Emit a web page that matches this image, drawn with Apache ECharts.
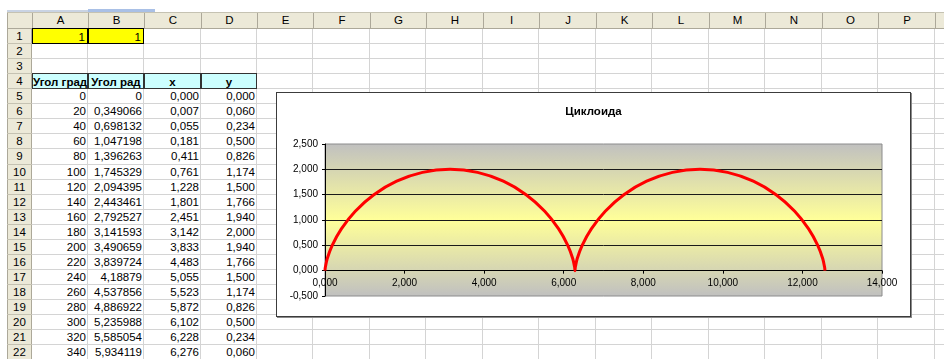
<!DOCTYPE html>
<html>
<head>
<meta charset="utf-8">
<script src="https://cdn.jsdelivr.net/npm/echarts@6/dist/echarts.min.js"></script>
<style>
  html, body { margin: 0; padding: 0; background: #fff; overflow: hidden; }
  body { width: 944px; height: 359px; position: relative; font-family: "Liberation Sans", Arial, sans-serif; }
  .abs { position: absolute; box-sizing: border-box; }
  .cell { position: absolute; box-sizing: border-box; font-size: 11.5px; line-height: 15px; white-space: nowrap; color: #000; overflow: visible; }
  .hdr { position: absolute; box-sizing: border-box; font-size: 11.5px; text-align: center; color: #000; }
  #chartBox { position: absolute; left: 276px; top: 92px; width: 635px; height: 225px; background: #fff;
              border: 1px solid #3c3c3c; box-shadow: 1px 1px 0 #8a8a8a; box-sizing: border-box; z-index: 10; }
  #chart { width: 633px; height: 223px; }
</style>
</head>
<body>
<div id="sheet"></div>
<div id="chartBox"><div id="chart"></div></div>
<script>
// ---- Sheet layout: column letters and cell contents ----
const columnLetters = ['A','B','C','D','E','F','G','H','I','J','K','L','M','N','O','P','Q'];
const inputA1 = 1;
const inputB1 = 1;
const headerTexts = ['Угол град', 'Угол рад', 'x', 'y'];

// Angle in degrees, every 20° over two full turns
const angleDeg = [0,20,40,60,80,100,120,140,160,180,200,220,240,260,280,300,320,340,
                  360,380,400,420,440,460,480,500,520,540,560,580,600,620,640,660,680,700,720];
// Angle in radians as shown in column B
const angleRad = [0,0.349066,0.698132,1.047198,1.396263,1.745329,2.094395,2.443461,2.792527,
                  3.141593,3.490659,3.839724,4.18879,4.537856,4.886922,5.235988,5.585054,5.934119];
// Cycloid coordinates
const xVals = [0.000,0.007,0.055,0.181,0.411,0.761,1.228,1.801,2.451,3.142,3.833,4.483,5.055,5.523,5.872,6.102,6.228,6.276,
               6.283,6.290,6.338,6.464,6.694,7.044,7.511,8.084,8.734,9.425,10.116,10.766,11.338,11.806,12.155,12.385,12.511,12.559,12.566];
const yVals = [0.000,0.060,0.234,0.500,0.826,1.174,1.500,1.766,1.940,2.000,1.940,1.766,1.500,1.174,0.826,0.500,0.234,0.060,
               0.000,0.060,0.234,0.500,0.826,1.174,1.500,1.766,1.940,2.000,1.940,1.766,1.500,1.174,0.826,0.500,0.234,0.060,0.000];

const chartTitle = 'Циклоида';
const xTicks = { min: 0, max: 14, step: 2 };
const yTicks = { min: -0.5, max: 2.5, step: 0.5 };

// ---- Build the spreadsheet grid ----
const sheet = document.getElementById('sheet');
const colEdges = [32,88,144,201,257,313,370,426,483,539,596,652,709,765,822,878,935,991];
const rowTop0 = 29, rowH = 15.06, rowCount = 22;
const rowTop = r => rowTop0 + (r - 1) * rowH;   // r is 1-based

function el(cls, css, text) {
  const d = document.createElement('div');
  d.className = cls;
  Object.assign(d.style, css);
  if (text !== undefined) d.textContent = text;
  sheet.appendChild(d);
  return d;
}

// thin strip above the header
el('abs', { left: '7px', top: '10px', width: '148px', height: '2px', background: '#c9d3e3' });
el('abs', { left: '88px', top: '9px', width: '67px', height: '3px', background: '#a9c0e6' });

// gridlines
for (let r = 1; r <= rowCount; r++) {
  el('abs', { left: '32px', top: (rowTop(r + 1) - 1) + 'px', width: '912px', height: '1px', background: '#d4d4d4' });
}
for (let i = 1; i < colEdges.length; i++) {
  el('abs', { left: (colEdges[i] - 1) + 'px', top: '29px', width: '1px', height: '330px', background: '#d4d4d4' });
}

// column header bar
el('abs', { left: '7px', top: '12px', width: '937px', height: '17px', background: '#ece9d8',
            borderTop: '1px solid #c5c2b2', borderBottom: '1px solid #aca899' });
for (let i = 0; i < columnLetters.length; i++) {
  const l = colEdges[i], w = colEdges[i + 1] - colEdges[i];
  el('hdr', { left: l + 'px', top: '13px', width: w + 'px', height: '15px', lineHeight: '15px',
              borderLeft: '1px solid #aca899' }, columnLetters[i]);
}
el('abs', { left: '7px', top: '13px', width: '25px', height: '15px', borderLeft: '1px solid #aca899' });

// row header bar
el('abs', { left: '7px', top: '29px', width: '25px', height: '330px', background: '#ece9d8',
            borderLeft: '1px solid #aca899', borderRight: '1px solid #aca899' });
for (let r = 1; r <= rowCount; r++) {
  el('hdr', { left: '7px', top: rowTop(r) + 'px', width: '25px', height: rowH + 'px', lineHeight: '15px',
              borderBottom: '1px solid #c5c2b2' }, String(r));
}

const fmt3 = v => v.toFixed(3).replace('.', ',');
const fmtGen = v => String(v).replace('.', ',');

function cell(col, r, text, extra) {
  const l = colEdges[col], w = colEdges[col + 1] - colEdges[col];
  const css = Object.assign({ left: l + 'px', top: rowTop(r) + 'px', width: w + 'px', height: '15px',
                              textAlign: 'right', paddingRight: '2px' }, extra || {});
  return el('cell', css, text);
}

// row 1: yellow input cells
cell(0, 1, String(inputA1), { background: '#ffff00', border: '1px solid #000', height: '16px', top: (rowTop(1) - 1) + 'px', lineHeight: '16px' });
cell(1, 1, String(inputB1), { background: '#ffff00', border: '1px solid #000', height: '16px', top: (rowTop(1) - 1) + 'px', lineHeight: '16px' });

// row 4: headings
headerTexts.forEach((t, i) => {
  cell(i, 4, t, { background: '#ccffff', border: '1px solid #333', textAlign: 'center', paddingRight: '0',
                  fontWeight: 'bold', height: '16px', top: (rowTop(4) - 1) + 'px', lineHeight: '16px' });
});

// rows 5..22: table values
for (let i = 0; i < rowCount - 4; i++) {
  const r = 5 + i;
  cell(0, r, String(angleDeg[i]));
  cell(1, r, fmtGen(angleRad[i]));
  cell(2, r, fmt3(xVals[i]));
  cell(3, r, fmt3(yVals[i]));
}

// ---- Chart ----
const chart = echarts.init(document.getElementById('chart'), null, { renderer: 'canvas' });
const font = '"Liberation Sans", Arial, sans-serif';
const plotH = 152;
const nY = Math.round((yTicks.max - yTicks.min) / yTicks.step) + 1;
// the x axis crosses at y = 0: lift it from the bottom edge by the height of the band below zero
const zeroLift = plotH * (0 - yTicks.min) / (yTicks.max - yTicks.min);
const splitColors = [];
for (let i = 0; i < nY; i++) splitColors.push(i === 0 || i === nY - 1 ? 'rgba(0,0,0,0)' : '#1a1a1a');

chart.setOption({
  animation: false,
  title: {
    text: chartTitle, left: 'center', top: 13, padding: 0,
    textStyle: { fontFamily: font, fontSize: 11.5, fontWeight: 'bold', color: '#000' }
  },
  grid: {
    left: 48, top: 51, width: 557, height: plotH, show: true,
    borderColor: '#8c8c8c', borderWidth: 1,
    backgroundColor: {
      type: 'linear', x: 0, y: 0, x2: 0, y2: 1,
      colorStops: [
        { offset: 0, color: '#c0c0c0' },
        { offset: 0.5, color: '#ffff99' },
        { offset: 1, color: '#c0c0c0' }
      ]
    }
  },
  xAxis: {
    type: 'value', min: xTicks.min, max: xTicks.max, interval: xTicks.step,
    position: 'bottom', offset: -zeroLift,
    axisLine: { show: true, onZero: false, lineStyle: { color: '#000', width: 1 } },
    axisTick: { show: true, length: 3, lineStyle: { color: '#000' } },
    axisLabel: { formatter: v => fmt3(v), fontFamily: font, fontSize: 10, color: '#000', margin: 8 },
    splitLine: { show: false }
  },
  yAxis: {
    type: 'value', min: yTicks.min, max: yTicks.max, interval: yTicks.step,
    axisLine: { show: true, onZero: false, lineStyle: { color: '#000', width: 1 } },
    axisTick: { show: true, length: 3, lineStyle: { color: '#000' } },
    axisLabel: { formatter: v => fmt3(v), fontFamily: font, fontSize: 10, color: '#000', margin: 7 },
    splitLine: { show: true, lineStyle: { color: splitColors, width: 1 } }
  },
  series: [{
    type: 'line',
    data: xVals.map((x, i) => [x, yVals[i]]),
    showSymbol: false,
    smooth: 0.3,
    lineStyle: { color: '#ff0000', width: 3 },
    itemStyle: { color: '#ff0000' }
  }]
});
</script>
</body>
</html>
